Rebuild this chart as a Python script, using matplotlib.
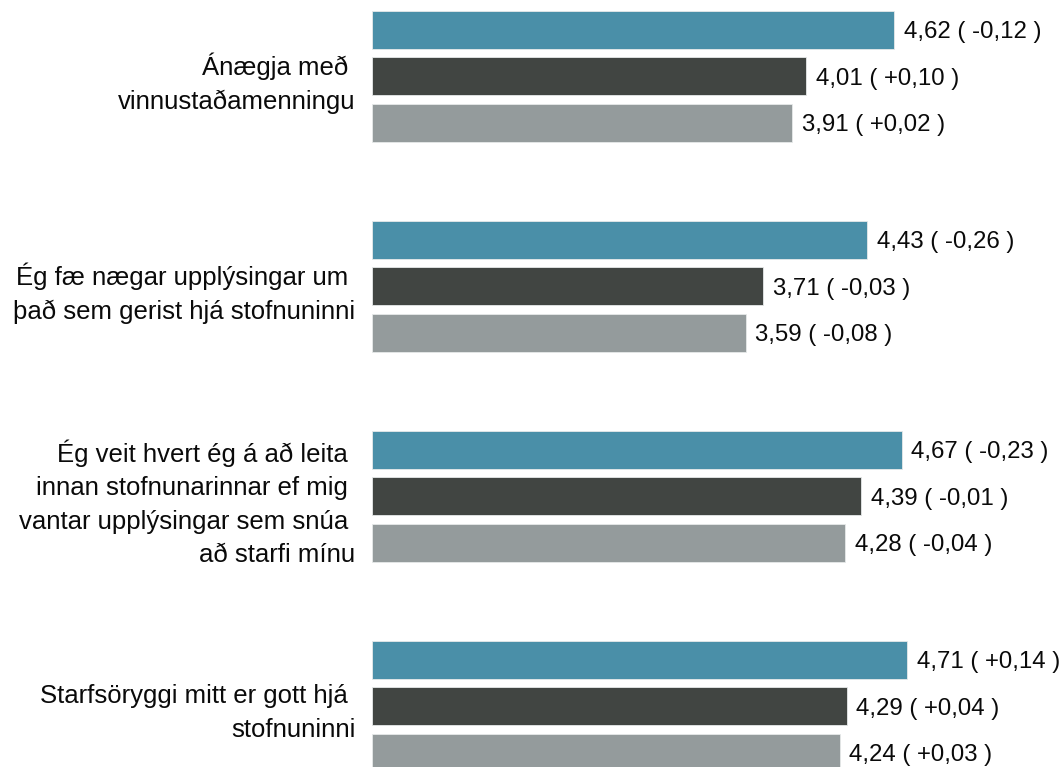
import numpy as np
import matplotlib.pyplot as plt

plt.rcParams['font.family'] = ['Liberation Sans', 'DejaVu Sans']

# spurningar (categories)
categories = [
    "Ánægja með \nvinnustaðamenningu",
    "Ég fæ nægar upplýsingar um \nþað sem gerist hjá stofnuninni",
    "Ég veit hvert ég á að leita \ninnan stofnunarinnar ef mig \nvantar upplýsingar sem snúa \nað starfi mínu",
    "Starfsöryggi mitt er gott hjá \nstofnuninni",
]

# three series: value and change from last year
vals_a = [4.62, 4.43, 4.67, 4.71]
diff_a = [-0.12, -0.26, -0.23, 0.14]
vals_b = [4.01, 3.71, 4.39, 4.29]
diff_b = [0.10, -0.03, -0.01, 0.04]
vals_c = [3.91, 3.59, 4.28, 4.24]
diff_c = [0.02, -0.08, -0.04, 0.03]

colors = ["#4a8fa8", "#414542", "#949b9c"]

def fmt(v, d):
    s = "%.2f" % v
    t = "%+.2f" % d
    return (s + " ( " + t + " )").replace(".", ",")

fig = plt.figure(figsize=(10.64, 7.67), dpi=100)
ax = fig.add_axes([372 / 1064, 0, 1 - 372 / 1064, 1])

y = np.arange(len(categories))
step = 46.5 / 210
h = 38 / 210
series = [(vals_a, diff_a), (vals_b, diff_b), (vals_c, diff_c)]
for k, (vals, diffs) in enumerate(series):
    yy = y + (k - 1) * step
    ax.barh(yy, np.array(vals) - 1, left=1, height=h, color=colors[k],
            edgecolor="#e6e9e9", linewidth=0.6)
    for yi, v, d in zip(yy, vals, diffs):
        ax.annotate(fmt(v, d), (v, yi), xytext=(7, -2), textcoords="offset points",
                    ha="left", va="center", fontsize=17.3, color="#0a0a0a")

ax.set_xlim(1, 1 + 692 / 144.3)
ax.set_ylim((767 - 76) / 210, -76 / 210)
ax.set_yticks(y)
ax.set_yticklabels(categories, fontsize=18.5, linespacing=1.5, ha="right",
                   color="#0a0a0a")
ax.tick_params(axis="y", length=0, pad=12)
ax.set_xticks([])
for s in ax.spines.values():
    s.set_visible(False)

fig.savefig("out.png", dpi=100)
